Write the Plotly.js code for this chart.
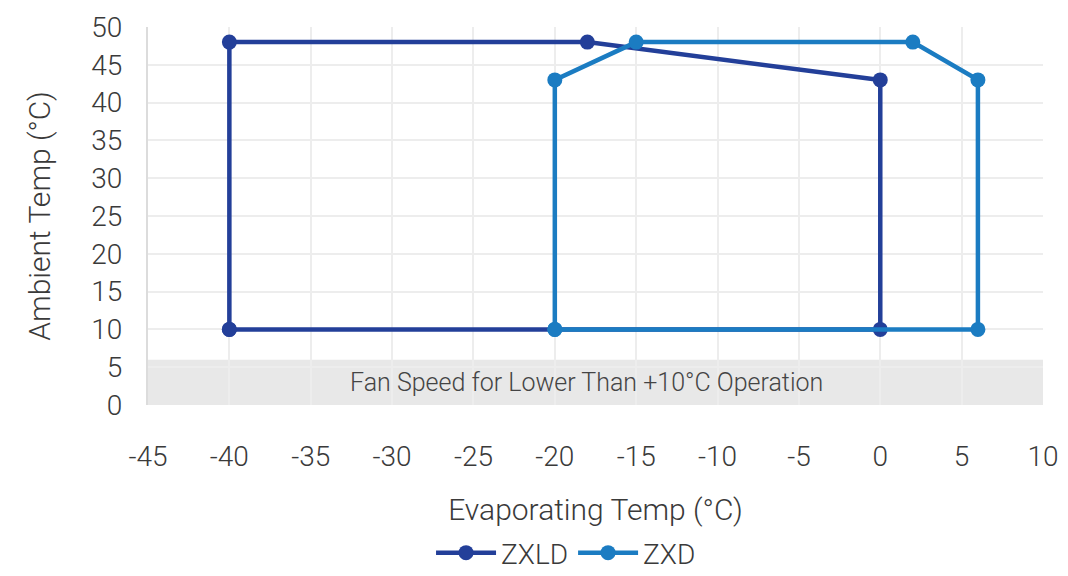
<!DOCTYPE html>
<html><head><meta charset="utf-8">
<script src="https://cdn.plot.ly/plotly-3.0.1.min.js"></script>
<style>html,body{margin:0;padding:0;background:#fff}#chart{width:1068px;height:576px}</style>
</head><body><div id="chart"></div>
<script>
const zxldX = [-40, -40, -18, 0, 0, -40];
const zxldY = [10, 48, 48, 43, 10, 10];
const zxdX = [-20, -20, -15, 2, 6, 6, -20];
const zxdY = [10, 43, 48, 48, 43, 10, 10];
const bandLabel = 'Fan Speed for Lower Than +10°C Operation';
const bandTop = 6;
const xTicks = [-45, -40, -35, -30, -25, -20, -15, -10, -5, 0, 5, 10];
const yTicks = [0, 5, 10, 15, 20, 25, 30, 35, 40, 45, 50];

const font = {family: 'Roboto, sans-serif', weight: 300, color: '#3a3a3a'};
const traces = [
  {x: zxldX, y: zxldY, name: 'ZXLD', mode: 'lines+markers', line: {color: '#233f99', width: 4.5}, marker: {color: '#233f99', size: 15}},
  {x: zxdX, y: zxdY, name: 'ZXD', mode: 'lines+markers', line: {color: '#1b7cc2', width: 4.5}, marker: {color: '#1b7cc2', size: 15}}
];
const layout = {
  width: 1068, height: 576,
  margin: {l: 148, r: 25, t: 27, b: 171, autoexpand: false},
  paper_bgcolor: '#fff', plot_bgcolor: '#fff',
  font: Object.assign({size: 26}, font),
  showlegend: true,
  legend: {orientation: 'h', x: 0.53, xanchor: 'center', xref: 'container', yref: 'container', y: 0.04, yanchor: 'middle',
    font: Object.assign({size: 28}, font), itemwidth: 60},
  xaxis: {range: [-45, 10], tickvals: xTicks, ticktext: xTicks.map(String), showgrid: true, gridcolor: '#ededed', gridwidth: 2, zeroline: false, showline: false,
    automargin: false, ticks: '', ticklabelstandoff: 32, tickfont: Object.assign({size: 28}, font),
    title: {text: 'Evaporating Temp (°C)', font: Object.assign({size: 30}, font), standoff: 26}},
  yaxis: {range: [0, 50], tickvals: yTicks, ticktext: yTicks.map(String), showgrid: true, gridcolor: '#ededed', gridwidth: 2, zeroline: false,
    automargin: false, showline: true, linecolor: '#dcdcdc', linewidth: 2, ticks: '', ticklabelstandoff: 18, tickfont: Object.assign({size: 28}, font),
    title: {text: 'Ambient Temp (°C)', font: Object.assign({size: 30}, font), standoff: 32}},
  shapes: [{type: 'rect', xref: 'paper', yref: 'y', x0: 0, x1: 1, y0: 0, y1: bandTop, fillcolor: '#e8e8e8', line: {width: 0}, layer: 'below'}],
  annotations: [{xref: 'paper', yref: 'y', x: 0.49, y: bandTop / 2, text: bandLabel, showarrow: false, font: Object.assign({size: 25}, font, {color: '#444'})}]
};
Plotly.newPlot('chart', traces, layout, {displayModeBar: false, staticPlot: true});
</script></body></html>
